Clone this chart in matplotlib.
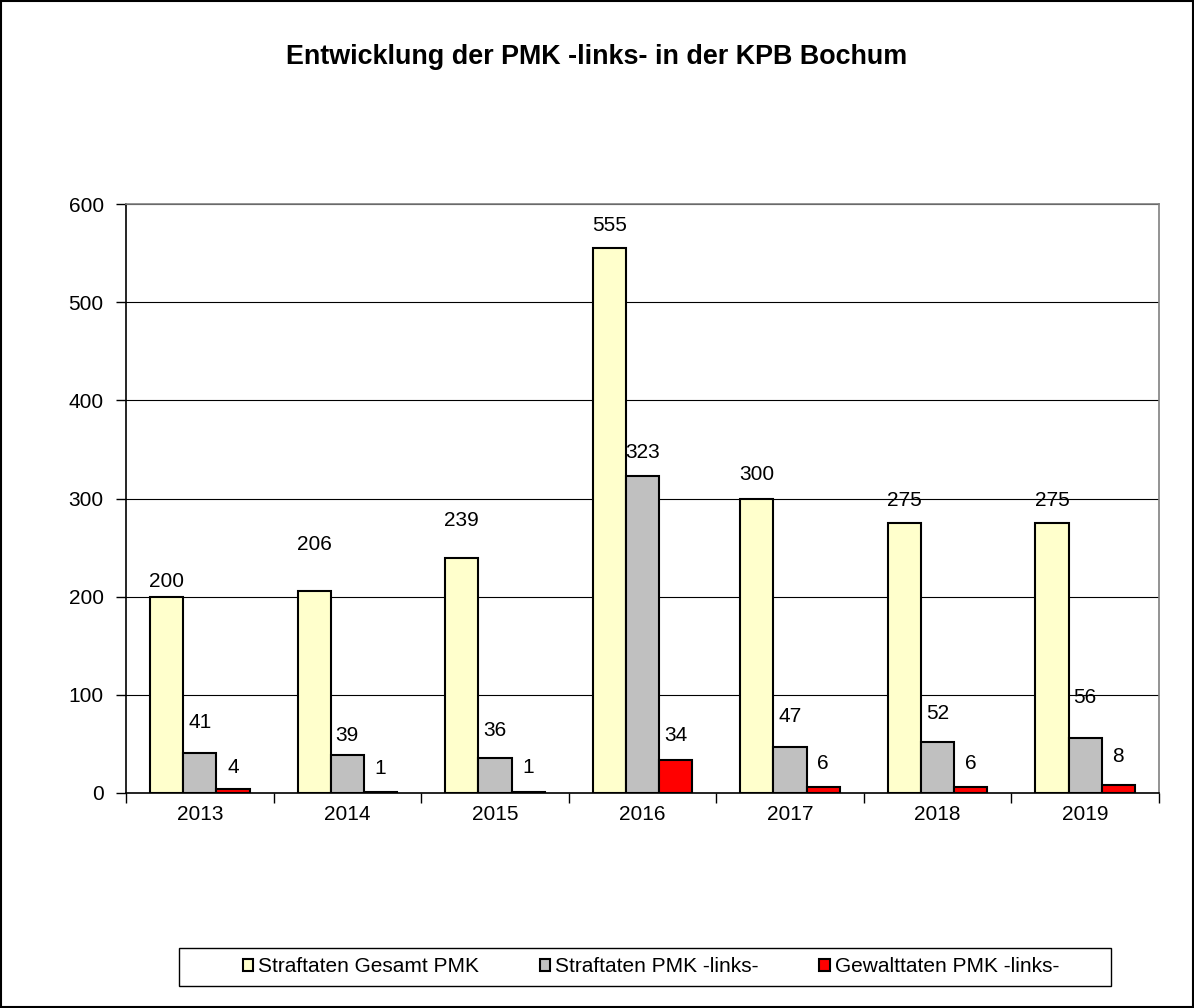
import numpy as np
import matplotlib.pyplot as plt
from matplotlib.patches import Rectangle

plt.rcParams['font.family'] = ['Liberation Sans', 'DejaVu Sans']

# Daten
jahre = ['2013', '2014', '2015', '2016', '2017', '2018', '2019']
gesamt_pmk = [200, 206, 239, 555, 300, 275, 275]
pmk_links = [41, 39, 36, 323, 47, 52, 56]
gewalt_links = [4, 1, 1, 34, 6, 6, 8]

serien = ['Straftaten Gesamt PMK', 'Straftaten PMK -links-', 'Gewalttaten PMK -links-']
farben = ['#FFFFCC', '#C0C0C0', '#FF0000']

# Abstand der Beschriftung über dem Balken (Pixel), wie im Original leicht unregelmäßig
abstand = [
    [15, 46, 38, 23, 24, 23, 23],
    [30, 19, 27, 23, 30, 28, 41],
    [22, 24, 25, 24, 24, 24, 29],
]

fig = plt.figure(figsize=(11.94, 10.08), dpi=100)
ax = fig.add_axes([126 / 1194, 1 - 793 / 1008, (1159 - 126) / 1194, (793 - 204) / 1008])

x = np.arange(len(jahre))
breite = 0.225
werte = [gesamt_pmk, pmk_links, gewalt_links]

for i, (name, farbe, daten) in enumerate(zip(serien, farben, werte)):
    pos = x + (i - 1) * breite
    bars = ax.bar(pos, daten, breite, color=farbe, edgecolor='black',
                  linewidth=1.5, label=name, zorder=3)
    for b, v, d in zip(bars, daten, abstand[i]):
        ax.annotate(str(v), (b.get_x() + b.get_width() / 2, v),
                    xytext=(0, d), textcoords='offset pixels',
                    ha='center', va='center', fontsize=15, zorder=4)

ax.set_xlim(-0.5, len(jahre) - 0.5)
ax.set_ylim(0, 600)
ax.set_yticks(np.arange(0, 601, 100))
ax.yaxis.grid(True, color='black', linewidth=0.8, zorder=0)
ax.set_axisbelow(True)

# Kategorien zwischen den Ticks
ax.set_xticks(np.arange(-0.5, len(jahre), 1))
ax.set_xticklabels([])
ax.set_xticks(x, minor=True)
ax.set_xticklabels(jahre, minor=True)
ax.tick_params(axis='x', which='minor', length=0, pad=9, labelsize=15)
ax.tick_params(axis='x', which='major', length=7, width=1, color='black')
ax.tick_params(axis='y', length=7, width=1, labelsize=15, pad=9)

ax.spines['left'].set_color('black')
ax.spines['bottom'].set_color('black')
ax.spines['top'].set_color('#808080')
ax.spines['right'].set_color('#808080')
for s in ax.spines.values():
    s.set_linewidth(1.2)

fig.text(0.5, 1 - 57 / 1008, 'Entwicklung der PMK -links- in der KPB Bochum',
         ha='center', va='center', fontsize=19.4, fontweight='bold')

# Legende ohne eigenen Rahmen, der Rahmen kommt extra (breiter als die Einträge)
leg = fig.legend(loc='center', bbox_to_anchor=(651 / 1194, 1 - 967 / 1008),
                 ncol=3, frameon=False,
                 fontsize=15, handlelength=0.5, handleheight=0.5, handletextpad=0.25,
                 columnspacing=2.9, borderpad=0, borderaxespad=0)
fig.patches.append(Rectangle((179 / 1194, 1 - 986 / 1008), (1111 - 179) / 1194, 38 / 1008,
                             transform=fig.transFigure, fill=False,
                             edgecolor='black', linewidth=1))

# Rahmen um die ganze Grafik
fig.patches.append(Rectangle((0.0005, 0.0005), 0.999, 0.999, transform=fig.transFigure,
                             fill=False, edgecolor='black', linewidth=1.5))

fig.savefig('out.png', dpi=100)
